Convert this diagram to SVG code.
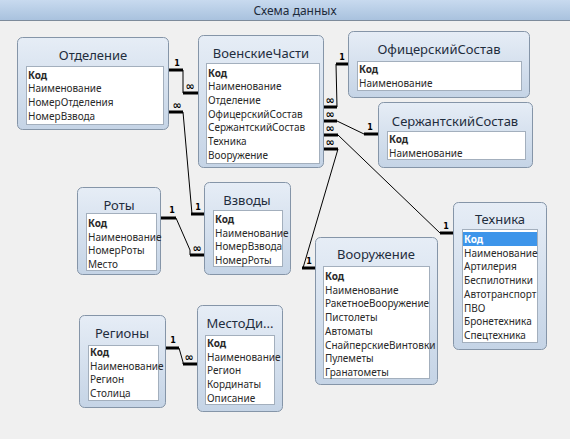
<svg xmlns="http://www.w3.org/2000/svg" width="570" height="439" viewBox="0 0 570 439">
<defs>
<linearGradient id="tb" x1="0" y1="0" x2="0" y2="1"><stop offset="0" stop-color="#c8daef"/><stop offset="1" stop-color="#a9c2de"/></linearGradient>
<linearGradient id="bx" x1="0" y1="0" x2="0" y2="1"><stop offset="0" stop-color="#e6edf6"/><stop offset="1" stop-color="#c5d4e6"/></linearGradient>
<style>
.box{fill:url(#bx);stroke:#8595a8;stroke-width:1}
.lst{fill:#ffffff;stroke:#a3afbd;stroke-width:1}
.ttl{font-family:"Noto Sans","Open Sans",sans-serif;font-size:13px;fill:#1f2d3d;text-anchor:middle}
.f{font-family:"Noto Sans","Open Sans",sans-serif;font-size:10px;fill:#2a2a2a}
.k{font-weight:bold}
.thk{stroke:#000;stroke-width:3;fill:none}
.thn{stroke:#000;stroke-width:1;fill:none}
.lb{font-family:"DejaVu Sans",sans-serif;font-size:8px;font-weight:bold;fill:#000;text-anchor:middle}
.inf{font-family:"DejaVu Sans",sans-serif;font-size:11px;font-weight:bold;fill:#000;text-anchor:middle}
</style>
</defs>
<rect x="0" y="0" width="570" height="439" fill="#f0f0f0"/>
<rect x="0" y="0" width="570" height="20" fill="url(#tb)"/>
<line x1="0" y1="20.5" x2="570" y2="20.5" stroke="#7d8b9b"/>
<text x="295" y="15" font-family="'Noto Sans','Open Sans',sans-serif" font-size="12" fill="#1e2b3a" text-anchor="middle">Схема данных</text>

<g id="connectors">
<path class="thk" d="M169,70 H183"/><path class="thn" d="M183,70 V93"/><path class="thk" d="M183,93 H198"/>
<text class="lb" x="177" y="66">1</text><text class="inf" x="190" y="90">∞</text>
<path class="thk" d="M169,112 H183"/><path class="thn" d="M183,112 L192,214"/><path class="thk" d="M191,214 H204"/>
<text class="inf" x="177" y="109">∞</text><text class="lb" x="198" y="210">1</text>
<path class="thk" d="M161,218 H176"/><path class="thn" d="M176,218 L190,250 V255"/><path class="thk" d="M190,255 H204"/>
<text class="lb" x="172" y="213">1</text><text class="inf" x="197" y="252">∞</text>
<path class="thk" d="M324,107 H337"/><path class="thn" d="M337,107 L336,64"/><path class="thk" d="M336,64 H348"/>
<text class="inf" x="330" y="104">∞</text><text class="lb" x="342" y="60">1</text>
<path class="thk" d="M324,121 H337"/><path class="thn" d="M337,121 L364,134"/><path class="thk" d="M364,134 H378"/>
<text class="inf" x="330" y="118">∞</text><text class="lb" x="370" y="130">1</text>
<path class="thk" d="M324,135 H338"/><path class="thn" d="M338,135 L440,233"/><path class="thk" d="M440,233 H453"/>
<text class="inf" x="330" y="132">∞</text><text class="lb" x="446" y="229">1</text>
<path class="thk" d="M324,149 H338"/><path class="thn" d="M338,149 L303,268"/><path class="thk" d="M302,268 H315"/>
<text class="inf" x="330" y="146">∞</text><text class="lb" x="309" y="264">1</text>
<path class="thk" d="M166,348 H179"/><path class="thn" d="M179,348 L183,362 V364"/><path class="thk" d="M183,364 H197"/>
<text class="lb" x="173" y="343">1</text><text class="inf" x="189" y="361">∞</text>
</g>

<g id="otdelenie">
<rect class="box" x="17.5" y="37.5" width="151" height="92" rx="5"/>
<text class="ttl" x="93" y="60">Отделение</text>
<rect class="lst" x="26.5" y="66.5" width="137" height="58"/>
<text class="f k" x="28" y="78.5">Код</text>
<text class="f" x="28" y="92.2">Наименование</text>
<text class="f" x="28" y="105.9">НомерОтделения</text>
<text class="f" x="28" y="119.6">НомерВзвода</text>
</g>

<g id="voinskiechasti">
<rect class="box" x="198.5" y="35.5" width="125" height="132" rx="5"/>
<text class="ttl" x="261" y="58">ВоенскиеЧасти</text>
<rect class="lst" x="206.5" y="63.5" width="113" height="100"/>
<text class="f k" x="208" y="76.5">Код</text>
<text class="f" x="208" y="90.2">Наименование</text>
<text class="f" x="208" y="103.9">Отделение</text>
<text class="f" x="208" y="117.6">ОфицерскийСостав</text>
<text class="f" x="208" y="131.3">СержантскийСостав</text>
<text class="f" x="208" y="145">Техника</text>
<text class="f" x="208" y="158.7">Вооружение</text>
</g>

<g id="oficerskiy">
<rect class="box" x="348.5" y="31.5" width="181" height="66" rx="5"/>
<text class="ttl" x="439" y="54">ОфицерскийСостав</text>
<rect class="lst" x="357.5" y="61.5" width="164" height="29"/>
<text class="f k" x="359" y="73">Код</text>
<text class="f" x="359" y="86.7">Наименование</text>
</g>

<g id="serzhantskiy">
<rect class="box" x="378.5" y="102.5" width="154" height="65" rx="5"/>
<text class="ttl" x="455" y="125.5">СержантскийСостав</text>
<rect class="lst" x="387.5" y="131.5" width="138" height="28"/>
<text class="f k" x="389" y="143">Код</text>
<text class="f" x="389" y="156.7">Наименование</text>
</g>

<g id="roty">
<rect class="box" x="77.5" y="187.5" width="83" height="87" rx="5"/>
<text class="ttl" x="119" y="209.5">Роты</text>
<rect class="lst" x="86.5" y="213.5" width="70" height="57"/>
<text class="f k" x="88" y="227">Код</text>
<text class="f" x="88" y="240.7">Наименование</text>
<text class="f" x="88" y="254.4">НомерРоты</text>
<text class="f" x="88" y="268.1">Место</text>
</g>

<g id="vzvody">
<rect class="box" x="204.5" y="182.5" width="86" height="92" rx="5"/>
<text class="ttl" x="247" y="204.5">Взводы</text>
<rect class="lst" x="213.5" y="210.5" width="69" height="56"/>
<text class="f k" x="215" y="223">Код</text>
<text class="f" x="215" y="236.7">Наименование</text>
<text class="f" x="215" y="250.4">НомерВзвода</text>
<text class="f" x="215" y="264.1">НомерРоты</text>
</g>

<g id="tehnika">
<rect class="box" x="453.5" y="202.5" width="93" height="147" rx="5"/>
<text class="ttl" x="500" y="223.5">Техника</text>
<rect class="lst" x="462.5" y="229.5" width="75" height="113"/>
<rect x="463" y="232" width="74" height="14" fill="#3d95ea"/>
<text class="f k" x="464" y="243" style="fill:#ffffff">Код</text>
<text class="f" x="464" y="256.7">Наименование</text>
<text class="f" x="464" y="270.4">Артилерия</text>
<text class="f" x="464" y="284.1">Беспилотники</text>
<text class="f" x="464" y="297.8">Автотранспорт</text>
<text class="f" x="464" y="311.5">ПВО</text>
<text class="f" x="464" y="325.2">Бронетехника</text>
<text class="f" x="464" y="338.9">Спецтехника</text>
</g>

<g id="vooruzhenie">
<rect class="box" x="315.5" y="237.5" width="122" height="147" rx="5"/>
<text class="ttl" x="376" y="258.5">Вооружение</text>
<rect class="lst" x="323.5" y="266.5" width="106" height="112"/>
<text class="f k" x="325" y="280">Код</text>
<text class="f" x="325" y="293.7">Наименование</text>
<text class="f" x="325" y="307.4">РакетноеВооружение</text>
<text class="f" x="325" y="321.1">Пистолеты</text>
<text class="f" x="325" y="334.8">Автоматы</text>
<text class="f" x="325" y="348.5">СнайперскиеВинтовки</text>
<text class="f" x="325" y="362.2">Пулеметы</text>
<text class="f" x="325" y="375.9">Гранатометы</text>
</g>

<g id="regiony">
<rect class="box" x="79.5" y="315.5" width="86" height="92" rx="5"/>
<text class="ttl" x="122" y="337.5">Регионы</text>
<rect class="lst" x="88.5" y="345.5" width="70" height="55"/>
<text class="f k" x="90" y="356">Код</text>
<text class="f" x="90" y="369.7">Наименование</text>
<text class="f" x="90" y="383.4">Регион</text>
<text class="f" x="90" y="397.1">Столица</text>
</g>

<g id="mestodi">
<rect class="box" x="197.5" y="305.5" width="85" height="106" rx="5"/>
<text class="ttl" x="240" y="327.5">МестоДи...</text>
<rect class="lst" x="205.5" y="335.5" width="69" height="69"/>
<text class="f k" x="207" y="347">Код</text>
<text class="f" x="207" y="360.7">Наименование</text>
<text class="f" x="207" y="374.4">Регион</text>
<text class="f" x="207" y="388.1">Кординаты</text>
<text class="f" x="207" y="401.8">Описание</text>
</g>
</svg>
